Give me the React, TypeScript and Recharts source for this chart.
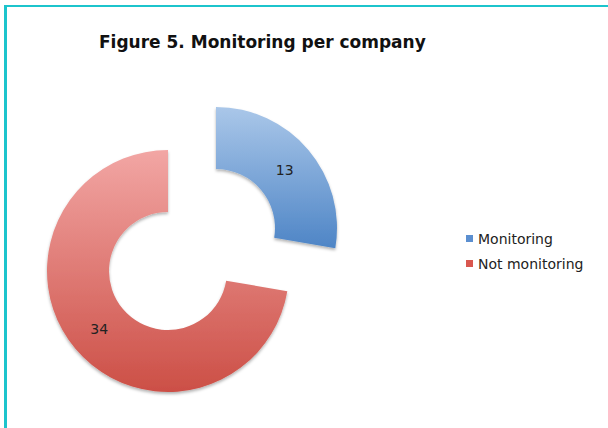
import React from "react";
import { PieChart, Pie, Cell } from "recharts";

const categories = ["Monitoring", "Not monitoring"];
const values = [13, 34];
const title = "Figure 5. Monitoring per company";

const data = categories.map((name, i) => ({ name, value: values[i] }));

const fills = ["url(#gradBlue)", "url(#gradRed)"];
const legendColors = ["#5b8fd0", "#d9574f"];

const RAD = Math.PI / 180;

const makeLabel = (visible: number) => (props: any) => {
  const { cx, cy, midAngle, innerRadius, outerRadius, index, value } = props;
  if (index !== visible) return null;
  const r = (innerRadius + outerRadius) / 2;
  const x = cx + r * Math.cos(-midAngle * RAD);
  const y = cy + r * Math.sin(-midAngle * RAD);
  return (
    <text
      x={x}
      y={y}
      textAnchor="middle"
      dominantBaseline="central"
      fill="#222"
      fontSize={14}
      fontFamily="DejaVu Sans, sans-serif"
    >
      {value}
    </text>
  );
};

export default function App() {
  return (
    <div style={{ position: "absolute", left: 0, top: 0, width: 608, height: 428, background: "#fff", overflow: "hidden" }}>
      <div style={{ position: "absolute", left: 4, top: 5, width: 604, height: 423, borderTop: "2px solid #1cc4cc", borderLeft: "3px solid #1cc4cc", boxSizing: "border-box" }} />
      <div
        style={{
          position: "absolute",
          left: 99,
          top: 32,
          fontFamily: "DejaVu Sans, sans-serif",
          fontWeight: "bold",
          fontSize: 17,
          color: "#111",
          whiteSpace: "nowrap",
        }}
      >
        {title}
      </div>
      <div style={{ position: "absolute", left: 0, top: 0 }}>
        <PieChart width={608} height={428} margin={{ top: 0, right: 0, bottom: 0, left: 0 }}>
          <defs>
            <linearGradient id="gradBlue" x1="0" y1="0" x2="0" y2="1">
              <stop offset="0%" stopColor="#aac7e9" />
              <stop offset="100%" stopColor="#4e85c6" />
            </linearGradient>
            <linearGradient id="gradRed" x1="0" y1="0" x2="0" y2="1">
              <stop offset="0%" stopColor="#f2a6a4" />
              <stop offset="100%" stopColor="#cc4f46" />
            </linearGradient>
            <filter id="shadow" x="-10%" y="-10%" width="120%" height="125%">
              <feDropShadow dx="0" dy="2" stdDeviation="1.5" floodColor="#000" floodOpacity="0.3" />
            </filter>
          </defs>
          <Pie
            data={data}
            dataKey="value"
            nameKey="name"
            cx={216}
            cy={228}
            innerRadius={59}
            outerRadius={121}
            startAngle={90}
            endAngle={-270}
            stroke="none"
            isAnimationActive={false}
            labelLine={false}
            label={makeLabel(0)}
            style={{ filter: "url(#shadow)" }}
          >
            {data.map((d, i) => (
              <Cell key={d.name} fill={i === 0 ? fills[0] : "none"} stroke="none" />
            ))}
          </Pie>
          <Pie
            data={data}
            dataKey="value"
            nameKey="name"
            cx={168}
            cy={271}
            innerRadius={59}
            outerRadius={121}
            startAngle={90}
            endAngle={-270}
            stroke="none"
            isAnimationActive={false}
            labelLine={false}
            label={makeLabel(1)}
            style={{ filter: "url(#shadow)" }}
          >
            {data.map((d, i) => (
              <Cell key={d.name} fill={i === 1 ? fills[1] : "none"} stroke="none" />
            ))}
          </Pie>
        </PieChart>
      </div>
      <div style={{ position: "absolute", left: 466, top: 226, fontFamily: "DejaVu Sans, sans-serif", fontSize: 14, color: "#222" }}>
        {categories.map((c, i) => (
          <div key={c} style={{ display: "flex", alignItems: "center", height: 25 }}>
            <span style={{ display: "inline-block", width: 7, height: 7, background: legendColors[i], marginRight: 5 }} />
            <span>{c}</span>
          </div>
        ))}
      </div>
    </div>
  );
}
